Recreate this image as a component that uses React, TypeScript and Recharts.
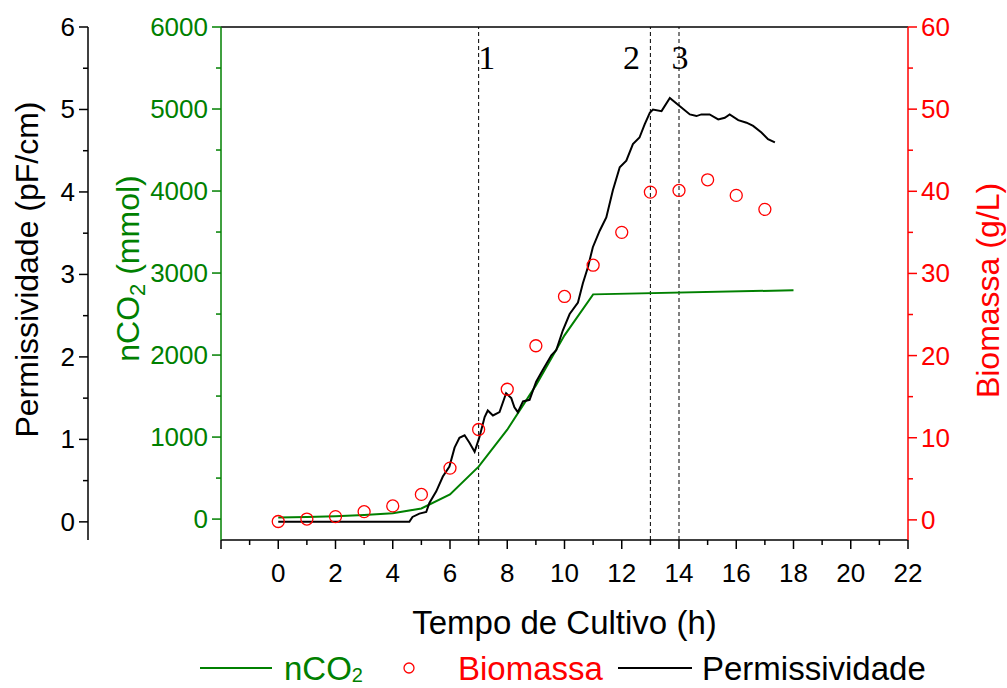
import React from 'react';
import {
  ComposedChart,
  Line,
  Scatter,
  XAxis,
  YAxis,
  ReferenceLine,
  Legend,
  Label,
} from 'recharts';

// Permissividade (pF/cm) vs tempo (h)
const permHours = [
  0, 1, 2, 3, 4, 4.58, 4.69, 4.93, 5.17, 5.28, 5.52, 5.75, 5.98, 6.16, 6.33, 6.51, 6.68,
  6.86, 7.03, 7.21, 7.32, 7.5, 7.73, 7.96, 8.14, 8.25, 8.37, 8.55, 8.78, 9.01, 9.24, 9.54,
  9.71, 9.94, 10.18, 10.47, 10.64, 10.82, 10.99, 11.23, 11.46, 11.69, 11.93, 12.16, 12.39,
  12.62, 12.8, 12.98, 13.09, 13.39, 13.68, 14.03, 14.38, 14.61, 14.78, 15.07, 15.37, 15.6,
  15.77, 16.07, 16.36, 16.59, 16.88, 17.11, 17.35,
];
const permValues = [
  0, 0, 0, 0, 0, 0, 0.06, 0.1, 0.12, 0.23, 0.37, 0.55, 0.67, 0.9, 1.02, 1.05, 0.96,
  0.85, 1.03, 1.27, 1.35, 1.29, 1.33, 1.56, 1.5, 1.39, 1.33, 1.46, 1.48, 1.7, 1.84, 2.02,
  2.08, 2.32, 2.52, 2.66, 2.89, 3.09, 3.33, 3.53, 3.69, 4.02, 4.3, 4.38, 4.58,
  4.66, 4.82, 4.96, 5.0, 4.98, 5.14, 5.04, 4.94, 4.92, 4.94, 4.94, 4.88, 4.9,
  4.94, 4.87, 4.84, 4.8, 4.72, 4.64, 4.6,
];

// nCO2 acumulado (mmol)
const co2Hours = [0, 1, 2, 3, 4, 5, 6, 7, 8, 9, 10, 11, 18];
const co2Values = [20, 25, 35, 50, 70, 130, 300, 640, 1090, 1630, 2240, 2740, 2790];

// Biomassa (g/L)
const bioHours = [0, 1, 2, 3, 4, 5, 6, 7, 8, 9, 10, 11, 12, 13, 14, 15, 16, 17];
const bioValues = [
  -0.2, 0.1, 0.4, 1.0, 1.7, 3.1, 6.3, 11.0, 15.9, 21.2, 27.2, 31.0, 35.0, 39.9, 40.1, 41.4,
  39.5, 37.8,
];

// fases marcadas no cultivo
const phaseHours = [7, 13, 14];
const phaseTags = ['1', '2', '3'];
const phaseTagDx = [8, -19, 1];

const xTicks = Array.from({ length: 25 }, (_, i) => i - 2);
const permTicks = Array.from({ length: 13 }, (_, i) => i * 0.5);
const co2Ticks = Array.from({ length: 13 }, (_, i) => i * 500);
const bioTicks = Array.from({ length: 13 }, (_, i) => i * 5);

const permData = permHours.map((t, i) => ({ t, perm: permValues[i] }));
const co2Data = co2Hours.map((t, i) => ({ t, co2: co2Values[i] }));
const bioData = bioHours.map((t, i) => ({ t, bio: bioValues[i] }));

const GREEN = '#008000';
const RED = '#ff0000';
const FONT = '"Liberation Sans", Arial, sans-serif';
const TICK_FONT = 26;
const TITLE_FONT = 32;

const isMajor = (v: number, step: number) => Math.abs(v / step - Math.round(v / step)) < 1e-6;

const BottomTick = (props: any) => {
  const { x, y, payload } = props;
  const v = payload.value;
  const major = isMajor(v, 2);
  return (
    <g>
      <line x1={x} x2={x} y1={y} y2={y + (major ? 9 : 5)} stroke="#000" strokeWidth={1.5} />
      {major && v >= 0 && (
        <text x={x} y={y + 33} textAnchor="middle" dominantBaseline="central"
          fontFamily={FONT} fontSize={TICK_FONT} fill="#000">
          {v}
        </text>
      )}
    </g>
  );
};

const makeSideTick = (color: string, step: number, side: 'left' | 'right') => (props: any) => {
  const { x, y, payload } = props;
  const v = payload.value;
  const major = isMajor(v, step);
  const dir = side === 'left' ? -1 : 1;
  const len = major ? 9 : 5;
  return (
    <g>
      <line x1={x} x2={x + dir * len} y1={y} y2={y} stroke={color} strokeWidth={1.5} />
      {major && (
        <text x={x + dir * 13} y={y} textAnchor={side === 'left' ? 'end' : 'start'}
          dominantBaseline="central" fontFamily={FONT} fontSize={TICK_FONT} fill={color}>
          {v}
        </text>
      )}
    </g>
  );
};

const PermTick = makeSideTick('#000', 1, 'left');
const Co2Tick = makeSideTick(GREEN, 1000, 'left');
const BioTick = makeSideTick(RED, 10, 'right');

const rotated = (cx: number, cy: number) => `rotate(-90, ${cx}, ${cy})`;

const PermTitle = (props: any) => {
  const { x, y, height } = props.viewBox;
  const cx = x + 27;
  const cy = y + height / 2 - 14;
  return (
    <text x={cx} y={cy} transform={rotated(cx, cy)} textAnchor="middle" dominantBaseline="central"
      fontFamily={FONT} fontSize={TITLE_FONT} fill="#000">
      Permissividade (pF/cm)
    </text>
  );
};

const Co2Title = (props: any) => {
  const { x, y, height } = props.viewBox;
  const cx = x + 40;
  const cy = y + height / 2 - 15;
  return (
    <text x={cx} y={cy} transform={rotated(cx, cy)} textAnchor="middle" dominantBaseline="central"
      fontFamily={FONT} fontSize={TITLE_FONT} fill={GREEN}>
      nCO<tspan dy={9} fontSize={22}>2</tspan>
      <tspan dy={-9}> (mmol)</tspan>
    </text>
  );
};

const BioTitle = (props: any) => {
  const { x, y, height } = props.viewBox;
  const cx = x + 80;
  const cy = y + height / 2 + 7;
  return (
    <text x={cx} y={cy} transform={rotated(cx, cy)} textAnchor="middle" dominantBaseline="central"
      fontFamily={FONT} fontSize={TITLE_FONT} fill={RED}>
      Biomassa (g/L)
    </text>
  );
};

const TimeTitle = (props: any) => {
  const { x, y, width } = props.viewBox;
  return (
    <text x={x + width / 2} y={y + 82} textAnchor="middle" dominantBaseline="central"
      fontFamily={FONT} fontSize={33} fill="#000">
      Tempo de Cultivo (h)
    </text>
  );
};

const makePhaseTag = (tag: string, dx: number) => (props: any) => {
  const { x, y } = props.viewBox;
  return (
    <text x={x + dx} y={y + 30} textAnchor="middle" dominantBaseline="central"
      fontFamily='"Liberation Serif", "Times New Roman", serif' fontSize={34} fill="#000">
      {tag}
    </text>
  );
};

const OpenCircle = (props: any) => {
  const { cx, cy } = props;
  return <circle cx={cx} cy={cy} r={6} fill="none" stroke={RED} strokeWidth={1.3} />;
};

const LegendRow = () => (
  <svg width={1007} height={40} overflow="visible" style={{ display: 'block', overflow: 'visible' }}>
    <g fontFamily={FONT} fontSize={33} dominantBaseline="central">
      <line x1={200} x2={272} y1={20} y2={20} stroke={GREEN} strokeWidth={2} />
      <text x={284} y={20} fill={GREEN}>
        nCO<tspan dy={7} fontSize={20}>2</tspan>
      </text>
      <circle cx={409} cy={20} r={5} fill="none" stroke={RED} strokeWidth={1.3} />
      <text x={458} y={20} fill={RED}>Biomassa</text>
      <line x1={618} x2={692} y1={20} y2={20} stroke="#000" strokeWidth={2} />
      <text x={702} y={20} fill="#000">Permissividade</text>
    </g>
  </svg>
);

export default function App() {
  return (
    <div style={{ position: 'absolute', left: 0, top: 0, background: '#fff' }}>
      <ComposedChart width={1007} height={688} margin={{ top: 27, right: 0, bottom: 0, left: 0 }}>
        <XAxis dataKey="t" type="number" domain={[-2, 22]} ticks={xTicks} interval={0}
          allowDataOverflow height={108} tickSize={0} tickMargin={0} tickLine={false}
          axisLine={{ stroke: '#000', strokeWidth: 1.5 }} tick={<BottomTick />}>
          <Label content={<TimeTitle />} />
        </XAxis>
        <YAxis yAxisId="co2" orientation="left" type="number" domain={[-255, 6000]} ticks={co2Ticks}
          interval={0} allowDataOverflow width={133} tickSize={0} tickMargin={0} tickLine={false}
          axisLine={{ stroke: GREEN, strokeWidth: 1.5 }} tick={<Co2Tick />}>
          <Label content={<Co2Title />} />
        </YAxis>
        <YAxis yAxisId="perm" orientation="left" type="number" domain={[-0.22, 6]} ticks={permTicks}
          interval={0} allowDataOverflow width={88} tickSize={0} tickMargin={0} tickLine={false}
          axisLine={{ stroke: '#000', strokeWidth: 1.5 }} tick={<PermTick />}>
          <Label content={<PermTitle />} />
        </YAxis>
        <YAxis yAxisId="bio" orientation="right" type="number" domain={[-2.45, 60]} ticks={bioTicks}
          interval={0} allowDataOverflow width={99} tickSize={0} tickMargin={0} tickLine={false}
          axisLine={{ stroke: RED, strokeWidth: 1.5 }} tick={<BioTick />}>
          <Label content={<BioTitle />} />
        </YAxis>

        <ReferenceLine yAxisId="perm" y={6} stroke="#000" strokeWidth={1.5} />
        {phaseHours.map((h, i) => (
          <ReferenceLine key={h} yAxisId="perm" x={h} stroke="#000" strokeWidth={1}
            strokeDasharray="4 3" label={makePhaseTag(phaseTags[i], phaseTagDx[i])} />
        ))}

        <Scatter data={bioData} dataKey="bio" yAxisId="bio" shape={<OpenCircle />}
          isAnimationActive={false} />
        <Line data={co2Data} dataKey="co2" yAxisId="co2" type="linear" stroke={GREEN}
          strokeWidth={2} dot={false} activeDot={false} isAnimationActive={false} />
        <Line data={permData} dataKey="perm" yAxisId="perm" type="linear" stroke="#000"
          strokeWidth={2} dot={false} activeDot={false} isAnimationActive={false} />

        <Legend verticalAlign="bottom" content={<LegendRow />} />
      </ComposedChart>
    </div>
  );
}
